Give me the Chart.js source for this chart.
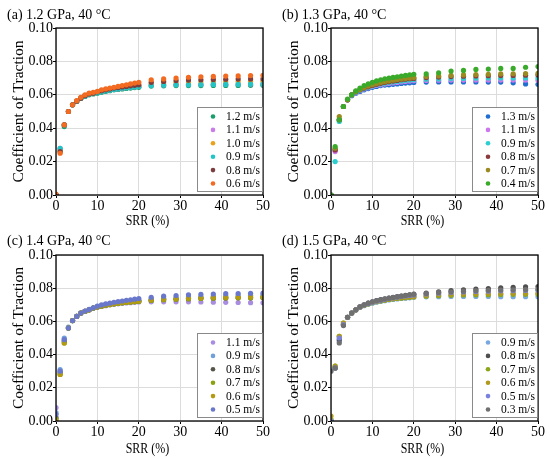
<!DOCTYPE html>
<html>
<head>
<meta charset="utf-8">
<script src="https://cdn.jsdelivr.net/npm/chart.js@4.4.1/dist/chart.umd.min.js"></script>
<style>
  body { margin: 0; background: #fff; }
  #wrap { position: relative; width: 550px; height: 459px; }
  .panel { position: absolute; width: 275px; height: 230px; }
</style>
</head>
<body>
<div id="wrap">
  <div class="panel" style="left:0;top:0"><canvas id="chart-a" width="275" height="230"></canvas></div>
  <div class="panel" style="left:275px;top:0"><canvas id="chart-b" width="275" height="230"></canvas></div>
  <div class="panel" style="left:0;top:229px"><canvas id="chart-c" width="275" height="230"></canvas></div>
  <div class="panel" style="left:275px;top:229px"><canvas id="chart-d" width="275" height="230"></canvas></div>
</div>
<script>
// SRR sample points (%)
const srr = [0,1,2,3,4,5,6,7,8,9,10,11,12,13,14,15,16,17,18,19,20,23,26,29,32,35,38,41,44,47,50];

// (a) 1.2 GPa
const a12 = [0.000,0.027,0.041,0.050,0.054,0.056,0.058,0.059,0.060,0.0605,0.061,0.0615,0.062,0.0625,0.063,0.0632,0.0635,0.0638,0.064,0.0643,0.0645,0.0652,0.0654,0.0655,0.0655,0.0655,0.0656,0.0656,0.0656,0.0657,0.0657];
const a11 = [0.000,0.028,0.042,0.050,0.054,0.056,0.058,0.0595,0.0605,0.061,0.0615,0.062,0.0625,0.063,0.0633,0.0636,0.064,0.0643,0.0646,0.0648,0.065,0.0658,0.066,0.0661,0.0662,0.0662,0.0663,0.0663,0.0664,0.0664,0.0665];
const a10 = [0.000,0.026,0.042,0.050,0.054,0.056,0.058,0.0595,0.0605,0.061,0.0615,0.062,0.0628,0.0633,0.0637,0.064,0.0643,0.0647,0.065,0.0652,0.0655,0.0665,0.067,0.0672,0.0674,0.0676,0.0677,0.0678,0.0679,0.068,0.068];
const a09 = [0.000,0.028,0.042,0.050,0.054,0.056,0.058,0.059,0.0603,0.061,0.0613,0.0618,0.0623,0.0628,0.0632,0.0636,0.064,0.0642,0.0645,0.0648,0.065,0.0656,0.0658,0.066,0.066,0.0661,0.0662,0.0662,0.0663,0.0664,0.0664];
const a08 = [0.000,0.026,0.042,0.050,0.054,0.0562,0.058,0.0595,0.0605,0.061,0.0618,0.0625,0.063,0.0635,0.064,0.0643,0.0647,0.065,0.0654,0.0657,0.066,0.0675,0.068,0.0685,0.0688,0.069,0.0692,0.0693,0.0694,0.0695,0.0695];
const a06 = [0.0005,0.025,0.042,0.050,0.054,0.0565,0.0585,0.060,0.061,0.0615,0.062,0.063,0.0635,0.064,0.0645,0.065,0.0655,0.066,0.0665,0.067,0.0675,0.069,0.0695,0.070,0.0705,0.0708,0.071,0.0712,0.0713,0.0715,0.0716];

// (b) 1.3 GPa
const b13 = [0.000,0.027,0.045,0.053,0.057,0.0595,0.061,0.062,0.063,0.0637,0.0645,0.065,0.0655,0.0658,0.066,0.0663,0.0665,0.0668,0.067,0.0672,0.0674,0.0676,0.0677,0.0677,0.0677,0.0677,0.0676,0.0676,0.0672,0.0665,0.0663];
const b11 = [0.000,0.026,0.045,0.053,0.057,0.0597,0.0613,0.0625,0.0635,0.0642,0.065,0.0656,0.066,0.0664,0.0668,0.0671,0.0674,0.0677,0.068,0.0682,0.0684,0.0686,0.0687,0.0688,0.0688,0.0688,0.0688,0.0688,0.0688,0.0688,0.0687];
const b09 = [0.000,0.020,0.044,0.053,0.057,0.060,0.0615,0.0627,0.0637,0.0645,0.0653,0.066,0.0665,0.0669,0.0673,0.0677,0.068,0.0683,0.0686,0.0688,0.069,0.0693,0.0695,0.0697,0.0698,0.0699,0.070,0.070,0.070,0.070,0.070];
const b08 = [0.000,0.027,0.045,0.053,0.057,0.060,0.0618,0.063,0.064,0.0648,0.0656,0.0663,0.0669,0.0674,0.0678,0.0682,0.0686,0.069,0.0693,0.0696,0.0698,0.0703,0.0706,0.0709,0.0711,0.0713,0.0714,0.0715,0.0716,0.0717,0.0718];
const b07 = [0.000,0.028,0.047,0.053,0.057,0.060,0.062,0.0632,0.0643,0.0652,0.066,0.0667,0.0673,0.0678,0.0683,0.0687,0.0691,0.0694,0.0697,0.070,0.0703,0.071,0.0713,0.0716,0.0719,0.0721,0.0723,0.0725,0.0726,0.0727,0.0728];
const b04 = [0.000,0.029,0.045,0.053,0.0575,0.060,0.0623,0.064,0.0655,0.0665,0.0675,0.0683,0.069,0.0696,0.070,0.0704,0.0708,0.0712,0.0716,0.072,0.0723,0.0725,0.0732,0.0742,0.0746,0.0752,0.0754,0.0758,0.0758,0.0765,0.0769];

// (c) 1.4 GPa
const c11 = [0.008,0.030,0.049,0.056,0.0605,0.063,0.065,0.066,0.067,0.068,0.0685,0.069,0.0695,0.070,0.0703,0.0706,0.0709,0.0711,0.0713,0.0715,0.0717,0.0718,0.0718,0.0718,0.0718,0.0717,0.0716,0.0715,0.0714,0.0713,0.0712];
const c09 = [0.005,0.031,0.050,0.0565,0.0605,0.063,0.065,0.066,0.067,0.068,0.069,0.0695,0.0702,0.0707,0.071,0.0713,0.0716,0.0719,0.0722,0.0725,0.0728,0.0735,0.074,0.0744,0.0748,0.075,0.0752,0.0754,0.0756,0.0757,0.0758];
const c08 = [0.002,0.029,0.048,0.056,0.0605,0.063,0.065,0.066,0.067,0.068,0.0688,0.0693,0.0698,0.0703,0.0707,0.071,0.0713,0.0716,0.0719,0.0721,0.0723,0.0728,0.0732,0.0735,0.0737,0.0739,0.074,0.0741,0.0742,0.0742,0.0743];
const c07 = [0.001,0.028,0.047,0.056,0.0605,0.063,0.065,0.066,0.067,0.068,0.0687,0.0692,0.0697,0.0701,0.0705,0.0708,0.0711,0.0714,0.0716,0.0718,0.072,0.0726,0.073,0.0733,0.0736,0.0738,0.074,0.0741,0.0742,0.0743,0.0744];
const c06 = [0.000,0.028,0.047,0.056,0.0605,0.063,0.065,0.066,0.067,0.068,0.0688,0.0694,0.070,0.0704,0.0708,0.0711,0.0714,0.0717,0.0719,0.0721,0.0723,0.073,0.0735,0.0738,0.0741,0.0743,0.0745,0.0746,0.0747,0.0748,0.0749];
const c05 = [0.004,0.030,0.049,0.056,0.0605,0.063,0.065,0.0662,0.0672,0.0682,0.0692,0.0699,0.0705,0.071,0.0715,0.0719,0.0723,0.0727,0.073,0.0734,0.0738,0.0745,0.0752,0.0756,0.076,0.0763,0.0765,0.0767,0.0768,0.0769,0.077];

// (d) 1.5 GPa
const d09 = [0.000,0.032,0.048,0.058,0.0625,0.065,0.067,0.0685,0.0695,0.0703,0.071,0.0716,0.072,0.0725,0.0729,0.0732,0.0735,0.0738,0.074,0.0742,0.0745,0.0748,0.0749,0.075,0.075,0.075,0.075,0.0749,0.0749,0.0749,0.0748];
const d08 = [0.000,0.032,0.049,0.058,0.0625,0.065,0.067,0.0688,0.070,0.071,0.0718,0.0725,0.0731,0.0736,0.0741,0.0745,0.0749,0.0753,0.0757,0.076,0.0764,0.077,0.0778,0.0785,0.079,0.0795,0.0798,0.0802,0.0805,0.0808,0.081];
const d07 = [0.001,0.033,0.051,0.059,0.0625,0.065,0.067,0.0686,0.0697,0.0706,0.0713,0.0719,0.0724,0.0728,0.0732,0.0735,0.0738,0.074,0.0743,0.0745,0.0747,0.0752,0.0755,0.0757,0.0759,0.076,0.0761,0.0762,0.0763,0.0763,0.0764];
const d06 = [0.003,0.033,0.051,0.059,0.0625,0.065,0.067,0.0686,0.0697,0.0706,0.0714,0.072,0.0725,0.073,0.0734,0.0738,0.0741,0.0744,0.0746,0.0748,0.075,0.0756,0.076,0.0763,0.0765,0.0767,0.0768,0.0769,0.077,0.077,0.0771];
const d05 = [0.000,0.032,0.050,0.058,0.0625,0.065,0.067,0.0687,0.0699,0.0708,0.0716,0.0723,0.0728,0.0733,0.0738,0.0742,0.0746,0.075,0.0753,0.0756,0.0759,0.0765,0.077,0.0774,0.0777,0.078,0.0782,0.0784,0.0785,0.0786,0.0787];
const d03 = [0.030,0.032,0.047,0.0575,0.0625,0.065,0.067,0.0688,0.070,0.071,0.0718,0.0725,0.073,0.0735,0.074,0.0744,0.0748,0.0752,0.0756,0.076,0.0763,0.0768,0.0774,0.0778,0.0782,0.0785,0.0787,0.0789,0.079,0.0792,0.0793];

const yTicks = [0, 0.02, 0.04, 0.06, 0.08, 0.10];
const FONT = "'Liberation Serif', 'DejaVu Serif', serif";

const panelFrame = {
  id: "panelFrame",
  afterDraw(chart, args, opts) {
    const { ctx, chartArea: ca } = chart;
    ctx.save();
    // frame
    ctx.strokeStyle = "#000";
    ctx.lineWidth = 1.3;
    ctx.strokeRect(ca.left, ca.top, ca.right - ca.left, ca.bottom - ca.top);
    // panel title
    ctx.fillStyle = "#000";
    ctx.font = "14px " + FONT;
    ctx.textBaseline = "middle";
    ctx.textAlign = "left";
    ctx.fillText(opts.title, 7, opts.titleY);
    // x axis title: narrow type, a little left of centre as in the figure
    ctx.save();
    ctx.translate((ca.left + ca.right) / 2 - 12, opts.xTitleY);
    ctx.scale(0.8, 1);
    ctx.textAlign = "center";
    ctx.font = "15px " + FONT;
    ctx.fillText("SRR (%)", 0, 0);
    ctx.restore();
    // legend box
    const boxL = ca.right - 66, boxB = ca.bottom - 3, boxT = boxB - 85;
    ctx.fillStyle = "#fff";
    ctx.fillRect(boxL, boxT, ca.right - boxL, boxB - boxT);
    ctx.strokeStyle = "#8a8a8a";
    ctx.lineWidth = 1;
    ctx.strokeRect(boxL + 0.5, boxT + 0.5, ca.right - boxL - 1, boxB - boxT - 1);
    ctx.font = "11.5px " + FONT;
    chart.data.datasets.forEach((ds, i) => {
      const y = boxT + 9.5 + i * 13.4;
      ctx.beginPath();
      ctx.fillStyle = ds.backgroundColor;
      ctx.arc(boxL + 16, y, 2.3, 0, Math.PI * 2);
      ctx.fill();
      ctx.fillStyle = "#000";
      ctx.fillText(ds.label, boxL + 29, y + 0.5);
    });
    ctx.restore();
  }
};

function makePanel(id, title, titleY, xTitleY, top, xHeight, labels, colors, series) {
  const datasets = series.map((vals, i) => ({
    label: labels[i],
    data: srr.map((x, j) => ({ x, y: vals[j] })),
    backgroundColor: colors[i],
    borderWidth: 0,
    pointRadius: 2.6,
    order: -i
  }));
  return new Chart(document.getElementById(id), {
    type: "scatter",
    data: { datasets },
    options: {
      responsive: false,
      animation: false,
      layout: { padding: { top, right: 12, bottom: 0, left: 0 } },
      plugins: {
        legend: { display: false },
        tooltip: { enabled: false },
        panelFrame: { title, titleY, xTitleY }
      },
      scales: {
        x: {
          min: 0, max: 50,
          afterFit: s => { s.height = xHeight; },
          ticks: { stepSize: 10, color: "#000", padding: 0, font: { family: FONT, size: 14 } },
          grid: { color: "#dcdcdc", tickColor: "#000", tickLength: 3 },
          border: { display: false },
          title: { display: false }
        },
        y: {
          min: 0, max: 0.1,
          afterFit: s => { s.width = 56; },
          afterBuildTicks: s => { s.ticks = yTicks.map(v => ({ value: v })); },
          ticks: { color: "#000", padding: 0, font: { family: FONT, size: 14 }, callback: v => Number(v).toFixed(2) },
          grid: { color: "#dcdcdc", tickColor: "#000", tickLength: 3 },
          border: { display: false },
          title: { display: true, text: "Coefficient of Traction", color: "#000", padding: { top: 9.5, bottom: 0 }, font: { family: FONT, size: 15.5 } }
        }
      }
    },
    plugins: [panelFrame]
  });
}

makePanel("chart-a", "(a) 1.2 GPa, 40 °C", 15, 221, 28, 35,
  ["1.2 m/s", "1.1 m/s", "1.0 m/s", "0.9 m/s", "0.8 m/s", "0.6 m/s"],
  ["#1a9e6a", "#c97de8", "#e8a21c", "#22c5c5", "#7b3d3d", "#f36a21"],
  [a12, a11, a10, a09, a08, a06]);

makePanel("chart-b", "(b) 1.3 GPa, 40 °C", 15, 221, 28, 35,
  ["1.3 m/s", "1.1 m/s", "0.9 m/s", "0.8 m/s", "0.7 m/s", "0.4 m/s"],
  ["#1f6fd0", "#cc77ee", "#2ccfcf", "#8b3b3b", "#9a8a1f", "#3aaa2a"],
  [b13, b11, b09, b08, b07, b04]);

makePanel("chart-c", "(c) 1.4 GPa, 40 °C", 12, 220, 26, 38,
  ["1.1 m/s", "0.9 m/s", "0.8 m/s", "0.7 m/s", "0.6 m/s", "0.5 m/s"],
  ["#a98de0", "#6fa0d8", "#555548", "#8da010", "#b39a10", "#6a78cc"],
  [c11, c09, c08, c07, c06, c05]);

makePanel("chart-d", "(d) 1.5 GPa, 40 °C", 12, 220, 26, 38,
  ["0.9 m/s", "0.8 m/s", "0.7 m/s", "0.6 m/s", "0.5 m/s", "0.3 m/s"],
  ["#78a8e0", "#4f4f4f", "#8aa61a", "#b09a1e", "#7a80dd", "#707070"],
  [d09, d08, d07, d06, d05, d03]);
</script>
</body>
</html>
